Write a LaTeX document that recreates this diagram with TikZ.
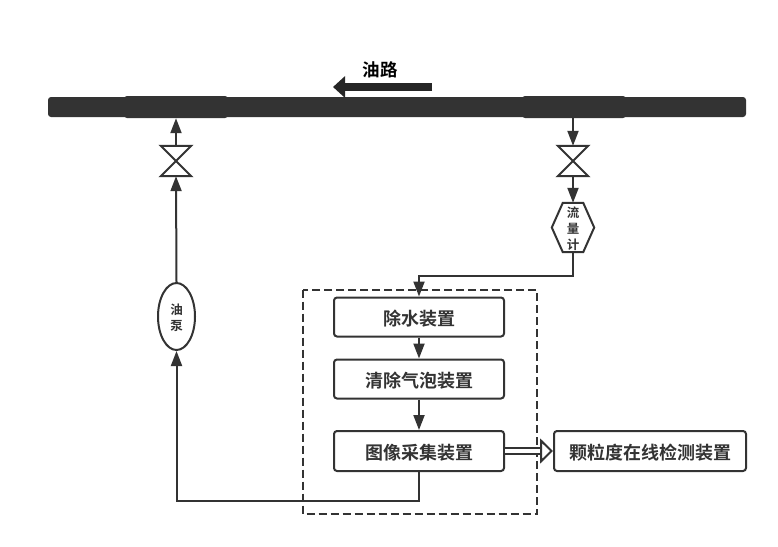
\documentclass[tikz,border=0pt]{standalone}
\usepackage{fontspec}
\setmainfont{Noto Sans CJK SC}[BoldFont={Noto Sans CJK SC Bold}]
\usetikzlibrary{arrows.meta,calc,shapes.geometric}
\definecolor{ink}{HTML}{333333}
\tikzset{
  flowline/.style={ink, line width=2pt, -{Triangle[length=15pt,width=11pt]}},
  pipe/.style={fill=ink, rounded corners=3pt, inner sep=0pt},
  devicebox/.style={draw=ink, line width=2pt, rounded corners=3pt, inner sep=0pt, text=ink, font=\bfseries\fontsize{18}{18}\selectfont, text height=17.5pt, text depth=0pt, minimum height=39pt},
  valve/.style={inner sep=0pt, minimum width=30pt, minimum height=30pt},
  smalltext/.style={text=ink, font=\bfseries\fontsize{12.5}{16}\selectfont, align=center, inner sep=0pt, text depth=0pt}
}
\begin{document}
\begin{tikzpicture}[x=1pt, y=-1pt]
    \useasboundingbox (0,0) rectangle (778,546);
    \fill[white] (0,0) rectangle (778,546);

    % oil line
    \node[pipe, minimum width=698pt, minimum height=20pt] (line) at (397,107) {};
    \node[pipe, minimum width=104pt, minimum height=22pt] (pipeL) at (176,107) {};
    \node[pipe, minimum width=104pt, minimum height=22pt] (pipeR) at (574,107) {};
    \node[font=\bfseries\fontsize{17.5}{18}\selectfont] (oiltext) at (380,70) {油路};
    \coordinate (oilA) at (432,87);
    \coordinate (oilB) at (333,87);
    \draw[black!85, line width=8pt, -{Triangle[length=12pt,width=21pt]}] (oilA) -- (oilB);

    % valves, flow meter and pump
    \node[valve] (valveL) at (176,161) {};
    \node[valve] (valveR) at (573,161) {};
    \foreach \v in {valveL,valveR}
        \draw[ink, line width=2pt] (\v.north west) -- (\v.north east) -- (\v.south west) -- (\v.south east) -- cycle;
    \node[smalltext, text height=44pt, minimum width=42pt, minimum height=49pt] (flow) at (573,227.5) {流\\量\\计};
    \draw[ink, line width=2pt] ($(flow.north west)+(11,0)$) -- ($(flow.north east)+(-11,0)$) -- (flow.east)
        -- ($(flow.south east)+(-11,0)$) -- ($(flow.south west)+(11,0)$) -- (flow.west) -- cycle;
    \node[ellipse, draw=ink, line width=2pt, smalltext, text height=28pt, minimum width=37pt, minimum height=67pt] (pump) at (176.5,316.5) {油\\泵};

    % treatment section
    \draw[ink, line width=2pt, dash pattern=on 8pt off 4pt] (303,289.5) rectangle (537,514);
    \node[devicebox, minimum width=170pt] (water) at (419,317) {除水装置};
    \node[devicebox, minimum width=170pt] (bubble) at (419,379) {清除气泡装置};
    \node[devicebox, minimum width=170pt, minimum height=40pt] (image) at (419,451) {图像采集装置};
    \node[devicebox, minimum width=192pt, minimum height=40pt] (detect) at (650,451) {颗粒度在线检测装置};

    % connectors
    \coordinate (bendA) at (419,275.5);
    \coordinate (bendB) at (419,501);
    \draw[flowline] (pipeR.south) ++(-1,0) -- (valveR.north);
    \draw[flowline] (valveR.south) -- (flow.north);
    \draw[flowline] (flow.south) |- (bendA) -- (water.north);
    \draw[flowline] (water.south) -- (bubble.north);
    \draw[flowline] (bubble.south) -- (image.north);
    \draw[flowline] (image.south) -- (bendB) -| (pump.south);
    \draw[flowline] (pump.north) -- (valveL.south);
    \draw[flowline] (valveL.north) -- (pipeL.south);
    \draw[ink, line width=2pt, double=white, double distance=4pt, -{Triangle[open,fill=white,length=13pt,width=25pt,line width=2pt]}] (image.east) -- (detect.west);
\end{tikzpicture}
\end{document}
